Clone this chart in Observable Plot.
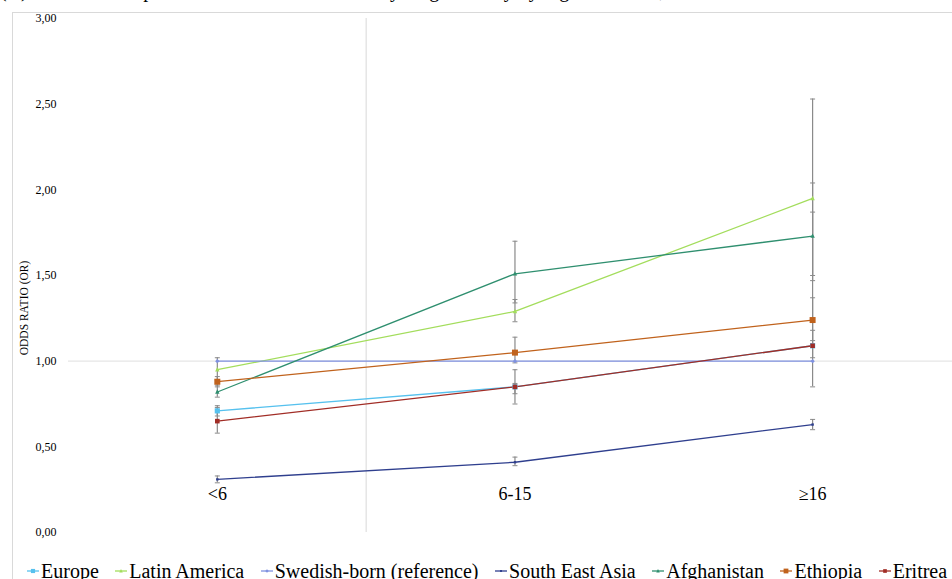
<!DOCTYPE html>
<html>
<head>
<meta charset="utf-8">
<script src="https://cdn.jsdelivr.net/npm/d3@7"></script>
<script src="https://cdn.jsdelivr.net/npm/@observablehq/plot@0.6"></script>
<style>
  html, body { margin: 0; padding: 0; background: #fff; overflow: hidden; width: 952px; height: 579px; }
  #frame { position: absolute; left: 12px; top: 12px; width: 940px; height: 567px;
           border-left: 1px solid #d9d9d9; border-top: 1px solid #d9d9d9; }
  #title { position: absolute; left: 0; top: -20px; font-family: "Liberation Serif", serif; font-size: 20px;
           line-height: 20px; white-space: nowrap; color: #000; }
  #chart { position: absolute; left: 0; top: 0; }
  #chart svg, #chart svg text { font-family: "Liberation Serif", serif !important; }
  #ylabel { position: absolute; left: 24px; top: 308px; transform: translate(-50%, -50%) rotate(-90deg);
            font-family: "Liberation Serif", serif; font-size: 11.5px; white-space: nowrap; color: #000; }
  #legend { position: absolute; left: 27px; top: 561px; display: flex; gap: 16.5px;
            font-family: "Liberation Serif", serif; font-size: 20px; line-height: 20px; white-space: nowrap; color: #000; }
  .item { display: flex; align-items: center; }
  .item svg { margin-right: 2px; }
</style>
</head>
<body>
<div id="frame"></div>
<div id="title">(A) Odds ratio of poor mental health outcomes by length of stay by region of birth, with Swedish-born as reference</div>
<div id="chart"></div>
<div id="ylabel"></div>
<div id="legend"></div>
<script>
// ---- data ----
const categories = ["<6", "6-15", "\u226516"];
const seriesNames = ["Europe", "Latin America", "Swedish-born (reference)", "South East Asia", "Afghanistan", "Ethiopia", "Eritrea"];
const seriesColors = ["#56c1ee", "#a3dd5c", "#7f91e0", "#2f3f8e", "#2f8f6f", "#c0621c", "#a12d26"];

const europe        = [0.71, 0.85, 1.09];
const latinAmerica  = [0.95, 1.29, 1.95];
const swedishBorn   = [1.00, 1.00, 1.00];
const southEastAsia = [0.31, 0.41, 0.63];
const afghanistan   = [0.82, 1.51, 1.73];
const ethiopia      = [0.88, 1.05, 1.24];
const eritrea       = [0.65, 0.85, 1.09];

// 95% confidence intervals (lower, upper)
const europeLow        = [0.68, 0.81, 1.02], europeHigh        = [0.74, 0.87, 1.18];
const latinAmericaLow  = [0.89, 1.23, 1.50], latinAmericaHigh  = [1.02, 1.36, 2.53];
const southEastAsiaLow = [0.29, 0.39, 0.60], southEastAsiaHigh = [0.33, 0.44, 0.66];
const afghanistanLow   = [0.79, 1.34, 1.47], afghanistanHigh   = [0.86, 1.70, 2.04];
const ethiopiaLow      = [0.85, 0.99, 1.12], ethiopiaHigh      = [0.91, 1.14, 1.37];
const eritreaLow       = [0.58, 0.75, 0.85], eritreaHigh       = [0.73, 0.95, 1.87];

const yTicks = [0, 0.5, 1, 1.5, 2, 2.5, 3];
const yLabel = "ODDS RATIO (OR)";
const referenceValue = 1;
const horizontalAxisCrossesAt = 0.5;   // category labels sit below OR = 0.5
const verticalAxisBetween = 0.5;       // value axis crosses between 1st and 2nd category

// ---- build tables ----
const values = [europe, latinAmerica, swedishBorn, southEastAsia, afghanistan, ethiopia, eritrea];
const lows   = [europeLow, latinAmericaLow, null, southEastAsiaLow, afghanistanLow, ethiopiaLow, eritreaLow];
const highs  = [europeHigh, latinAmericaHigh, null, southEastAsiaHigh, afghanistanHigh, ethiopiaHigh, eritreaHigh];

const rows = seriesNames.flatMap((s, i) => categories.map((c, j) => ({
  series: s, idx: j, cat: c, or: values[i][j],
  lo: lows[i] ? lows[i][j] : null, hi: highs[i] ? highs[i][j] : null
})));
const ciRows = rows.filter(d => d.lo != null);
const capRows = ciRows.flatMap(d => [{idx: d.idx, v: d.lo}, {idx: d.idx, v: d.hi}]);

// ---- symbols ----
const sq = h => ({draw(ctx) { ctx.rect(-h, -h, 2 * h, 2 * h); }});
const tri = h => ({draw(ctx) { ctx.moveTo(0, -h * 1.2); ctx.lineTo(h, h * 0.8); ctx.lineTo(-h, h * 0.8); ctx.closePath(); }});
const dia = h => ({draw(ctx) { ctx.moveTo(0, -h); ctx.lineTo(h, 0); ctx.lineTo(0, h); ctx.lineTo(-h, 0); ctx.closePath(); }});
const seriesSymbols = [sq(2.6), tri(2.2), dia(2.2), sq(1.2), tri(2.2), sq(3), sq(2.3)];
const capSymbol = {draw(ctx) { ctx.moveTo(-2.5, 0); ctx.lineTo(2.5, 0); }};

const W = 952, H = 545;
const fmt = d => d.toFixed(2).replace(".", ",");
const serif = "Liberation Serif";

const plot = Plot.plot({
  width: W, height: H,
  marginLeft: 68, marginRight: 0, marginTop: 18, marginBottom: 13,
  style: {background: "transparent", overflow: "visible"},
  x: {type: "linear", domain: [-0.5, 2.47], axis: null},
  y: {domain: [0, 3], axis: null},
  color: {domain: seriesNames, range: seriesColors},
  symbol: {domain: seriesNames, range: seriesSymbols},
  marks: [
    Plot.ruleY([referenceValue], {stroke: "#e6e6e6", strokeWidth: 1.2}),
    Plot.ruleX([verticalAxisBetween], {stroke: "#d9d9d9", strokeWidth: 1}),
    Plot.axisY(yTicks, {anchor: "left", tickSize: 0, tickPadding: 12, tickFormat: fmt, fontSize: 12, fontFamily: serif, label: null, fill: "#000"}),
    Plot.text(categories, {x: (d, i) => i, y: () => horizontalAxisCrossesAt, dy: 47, fontSize: 18, fontFamily: serif, fill: "#000"}),
    Plot.line(rows, {x: "idx", y: "or", z: "series", stroke: "series", strokeWidth: 1.3}),
    Plot.ruleX(ciRows, {x: "idx", y1: "lo", y2: "hi", stroke: "#8a8a8a", strokeWidth: 1.2}),
    Plot.dot(capRows, {x: "idx", y: "v", symbol: capSymbol, r: 3, stroke: "#8a8a8a", strokeWidth: 1, fill: "none"}),
    Plot.dot(rows, {x: "idx", y: "or", symbol: "series", fill: "series", stroke: "none"})
  ]
});
document.getElementById("chart").appendChild(plot);
document.getElementById("ylabel").textContent = yLabel;

// ---- legend ----
const legend = document.getElementById("legend");
seriesNames.forEach((s, i) => {
  const item = document.createElement("div");
  item.className = "item";
  const ns = "http://www.w3.org/2000/svg";
  const sv = document.createElementNS(ns, "svg");
  sv.setAttribute("width", 12); sv.setAttribute("height", 8);
  const ln = document.createElementNS(ns, "line");
  ln.setAttribute("x1", 0); ln.setAttribute("x2", 12); ln.setAttribute("y1", 4); ln.setAttribute("y2", 4);
  ln.setAttribute("stroke", seriesColors[i]); ln.setAttribute("stroke-width", 1.3);
  sv.appendChild(ln);
  const mk = document.createElementNS(ns, "path");
  const p = d3.path(); seriesSymbols[i].draw(p);
  mk.setAttribute("d", p.toString()); mk.setAttribute("transform", "translate(6,4) scale(0.8)");
  mk.setAttribute("fill", seriesColors[i]);
  sv.appendChild(mk);
  item.appendChild(sv);
  const t = document.createElement("span"); t.textContent = s;
  item.appendChild(t);
  legend.appendChild(item);
});
</script>
</body>
</html>
